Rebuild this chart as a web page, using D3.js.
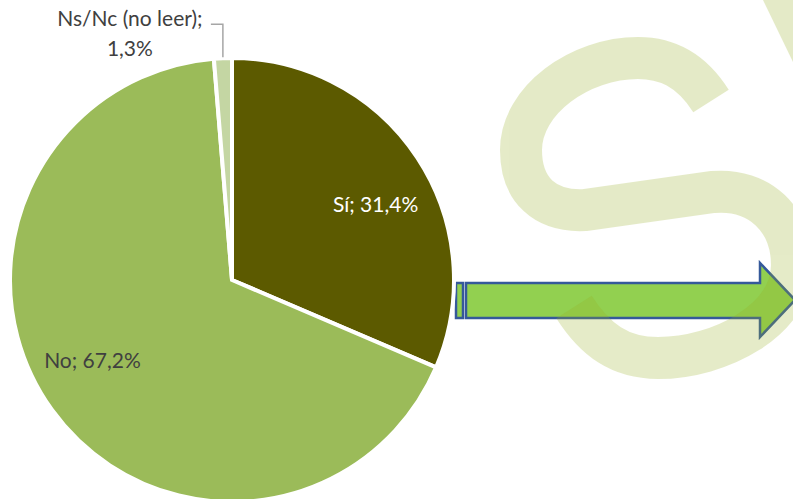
<!DOCTYPE html>
<html>
<head>
<meta charset="utf-8">
<script src="https://cdn.jsdelivr.net/npm/d3@7"></script>
<style>
  body { margin: 0; background: #fff; }
  svg { display: block; font-family: Lato, "Open Sans", sans-serif; }
</style>
</head>
<body>
<div id="chart"></div>
<script>
// datos del gráfico
const categories = ["Sí", "No", "Ns/Nc (no leer)"];
const values = [31.4, 67.2, 1.3];
const labels = ["Sí; 31,4%", "No; 67,2%", "Ns/Nc (no leer);|1,3%"];

const width = 793, height = 499;
const cx = 232, cy = 280, R = 222;

const svg = d3.select("#chart").append("svg")
    .attr("width", width)
    .attr("height", height);

const color = d3.scaleOrdinal()
    .domain(categories)
    .range(["#5c5a00", "#9bbb59", "#c4d6a3"]);

// flecha (detrás de la marca de agua)
const arrow = svg.append("g");
arrow.append("rect")
    .attr("x", 456).attr("y", 283)
    .attr("width", 7).attr("height", 35)
    .attr("fill", "#92d050")
    .attr("stroke", "#35599a").attr("stroke-width", 2.5);
arrow.append("path")
    .attr("d", "M466,283 L760,283 L760,263 L795,300 L760,337 L760,318 L466,318 Z")
    .attr("fill", "#92d050")
    .attr("stroke", "#35599a").attr("stroke-width", 2.5)
    .attr("stroke-linejoin", "miter");

// marca de agua "S"
const wm = svg.append("g").attr("opacity", 0.25);
wm.append("path")
    .attr("d", "M711,101 C690,68 665,58 638,58 C580,58 521,100 521,150 C521,190 545,212 585,210 L713,192 C760,188 792,220 792,265 C792,320 720,358 658,358 C620,358 595,340 574,307")
    .attr("fill", "none")
    .attr("stroke", "#97af23")
    .attr("stroke-width", 42);
wm.append("path")
    .attr("d", "M763,0 L793,0 L793,62 Z")
    .attr("fill", "#97af23");

// tarta
const pie = d3.pie().sort(null).value(d => d.value);
const arcs = pie(categories.map((c, i) => ({cat: c, value: values[i], label: labels[i]})));

const arc = d3.arc().innerRadius(0).outerRadius(R);

const g = svg.append("g").attr("transform", `translate(${cx},${cy})`);

g.selectAll("path")
    .data(arcs)
    .enter().append("path")
    .attr("d", arc)
    .attr("fill", d => color(d.data.cat))
    .attr("stroke", "#fff")
    .attr("stroke-width", 4)
    .attr("stroke-linejoin", "miter");

// etiquetas interiores
const rl = 172;
const mid = d => (d.startAngle + d.endAngle) / 2;

g.selectAll("text.inner")
    .data(arcs.filter(d => d.data.value > 5))
    .enter().append("text")
    .attr("class", "inner")
    .attr("x", d => rl * Math.sin(mid(d)))
    .attr("y", d => -0.8 * rl * Math.cos(mid(d)))
    .attr("dy", "0.35em")
    .attr("text-anchor", "middle")
    .style("font-size", "21px")
    .attr("fill", (d, i) => i === 0 ? "#ffffff" : "#404040")
    .text(d => d.data.label);

// etiqueta exterior con línea guía
arcs.filter(d => d.data.value <= 5).forEach(d => {
    const a = mid(d);
    const px = (R + 1) * Math.sin(a), py = -(R + 1) * Math.cos(a);
    const ly = py - 33;
    g.append("path")
        .attr("d", `M${px},${py} L${px},${ly} L${px - 12},${ly}`)
        .attr("fill", "none")
        .attr("stroke", "#a6a6a6")
        .attr("stroke-width", 1.5);
    const parts = d.data.label.split("|");
    const t = g.append("text")
        .attr("text-anchor", "middle")
        .style("font-size", "21px")
        .attr("fill", "#404040");
    parts.forEach((p, i) => {
        t.append("tspan")
            .attr("x", px - 93)
            .attr("y", ly + 2 + i * 30)
            .text(p);
    });
});
</script>
</body>
</html>
